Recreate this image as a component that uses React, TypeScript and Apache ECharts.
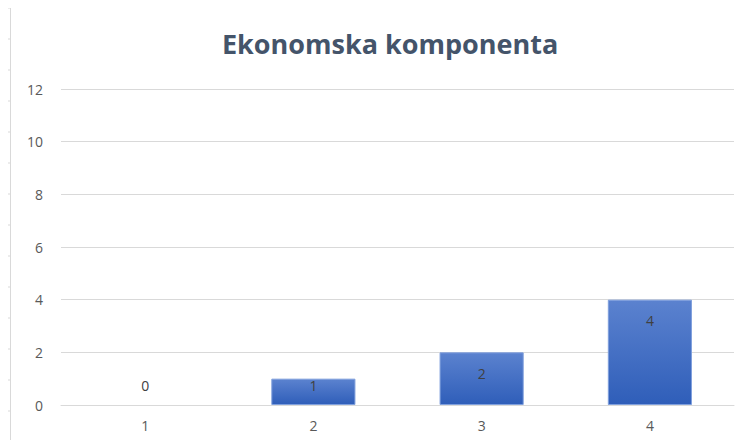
import React, { useEffect, useRef } from "react";
import * as echarts from "echarts";

const categories = ["1", "2", "3", "4"];
const values = [0, 1, 2, 4];
const yTicks = { min: 0, max: 12, interval: 2 };
const titleText = "Ekonomska komponenta";

export default function App() {
  const ref = useRef<HTMLDivElement>(null);
  useEffect(() => {
    if (!ref.current) return;
    const chart = echarts.init(ref.current, undefined, { renderer: "svg" });
    const labelFor = (v: number) => {
      if (v === 0) return { position: "top", distance: 13 };
      if (v === 1) return { position: "insideTop", distance: 0 };
      return { position: "insideTop", distance: 14 };
    };
    const ticks: any[] = [];
    for (let y = 8; y < 448; y += 31) {
      ticks.push({
        type: "line",
        shape: { x1: 7, y1: y, x2: 10, y2: y },
        style: { stroke: "#d9d9d9", lineWidth: 1 },
        silent: true,
      });
    }
    chart.setOption({
      animation: false,
      title: {
        text: titleText,
        left: 217,
        top: 25,
        textStyle: {
          fontFamily: "Open Sans",
          fontSize: 27,
          fontWeight: "bold",
          color: "#44546a",
        },
      },
      graphic: [
        {
          type: "line",
          shape: { x1: 10.5, y1: 8, x2: 10.5, y2: 448 },
          style: { stroke: "#d9d9d9", lineWidth: 1 },
          silent: true,
        },
        ...ticks,
      ],
      grid: { left: 61, right: 11, top: 89, bottom: 43 },
      xAxis: {
        type: "category",
        data: categories,
        axisLine: { show: true, lineStyle: { color: "#d9d9d9" } },
        axisTick: { show: false },
        axisLabel: {
          color: "#595959",
          fontFamily: "Open Sans",
          fontSize: 14,
          margin: 13,
        },
      },
      yAxis: {
        type: "value",
        min: yTicks.min,
        max: yTicks.max,
        interval: yTicks.interval,
        axisLine: { show: false },
        axisTick: { show: false },
        splitLine: { lineStyle: { color: "#d9d9d9" } },
        axisLabel: {
          color: "#595959",
          fontFamily: "Open Sans",
          fontSize: 14,
          margin: 18,
        },
      },
      series: [
        {
          type: "bar",
          barWidth: "50%",
          data: values.map((v) => ({
            value: v,
            label: { show: true, ...labelFor(v) },
            itemStyle:
              v === 0
                ? { borderWidth: 0, color: "rgba(0,0,0,0)" }
                : {},
          })),
          itemStyle: {
            color: new echarts.graphic.LinearGradient(0, 0, 0, 1, [
              { offset: 0, color: "#5b82cf" },
              { offset: 1, color: "#2f5eb9" },
            ]),
            borderColor: "#7f9fdc",
            borderWidth: 1,
          },
          label: {
            show: true,
            color: "#404040",
            fontFamily: "Open Sans",
            fontSize: 14,
          },
        },
      ],
    });
    return () => chart.dispose();
  }, []);
  return <div ref={ref} style={{ width: 745, height: 448, margin: -8 }} />;
}
